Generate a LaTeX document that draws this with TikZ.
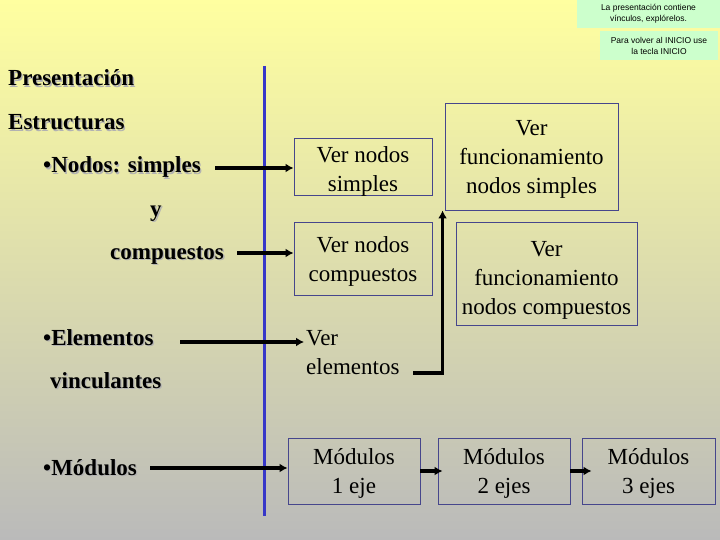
\documentclass[tikz,border=0pt]{standalone}
\usepackage{fontspec}
\setmainfont{Liberation Serif}
\newfontfamily\smallsans{Liberation Sans}
\usetikzlibrary{arrows.meta}
\definecolor{bgtop}{RGB}{255,255,160}
\definecolor{bgbot}{RGB}{186,186,186}
\definecolor{notegreen}{RGB}{204,255,204}
\definecolor{boxline}{RGB}{70,70,140}
\definecolor{vline}{RGB}{55,55,200}
\newcommand\shd[1]{\rlap{\kern1.3pt\raisebox{-1.3pt}{\textcolor{black!30}{#1}}}#1}
\tikzset{
  x=1pt,y=-1pt,
  lbl/.style={anchor=base west,inner sep=0pt,font=\fontsize{23}{28}\selectfont\bfseries},
  box/.style={draw=boxline,line width=0.9pt,inner sep=0pt},
  btxt/.style={align=center,inner sep=0pt,font=\fontsize{23}{29}\selectfont},
  note/.style={fill=notegreen,align=center,inner sep=0pt,
    font=\smallsans\fontsize{8.5}{11}\selectfont},
  arr/.style={line width=3.4pt,-{Latex[length=8pt,width=9pt]}}
}
\begin{document}
\begin{tikzpicture}
\useasboundingbox (0,0) rectangle (720,540);
\shade[top color=bgtop,bottom color=bgbot] (0,0) rectangle (720,540);

% notes
\node[note,minimum width=143pt,minimum height=28pt] (n1) at (648.5,14)
  {La presentación contiene\\vínculos, explórelos.};
\node[note,minimum width=118pt,minimum height=29pt] (n2) at (659,45.5)
  {Para volver al INICIO use\\la tecla INICIO};

% blue vertical line
\draw[vline,line width=3pt] (264,66) -- (264,516);

% left labels
\node[lbl] (pres) at (8,86) {\shd{Presentación}};
\node[lbl] (estr) at (8,130) {\shd{Estructuras}};
\node[lbl] (nodos) at (43,173) {\shd{•Nodos: simples}};
\node[lbl] (y) at (150,216) {\shd{y}};
\node[lbl] (comp) at (110,259) {\shd{compuestos}};
\node[lbl] (elem) at (43,345) {\shd{•Elementos}};
\node[lbl] (vinc) at (50,388) {\shd{vinculantes}};
\node[lbl] (mod) at (43,475) {\shd{•Módulos}};

% boxes
\node[box,minimum width=138pt,minimum height=57pt] (vns) at (363,166.5) {};
\node[btxt] (vns-t) at ([yshift=-5pt]vns.center) {Ver nodos\\simples};
\node[box,minimum width=138pt,minimum height=73pt] (vnc) at (363,258.5) {};
\node[btxt] (vnc-t) at ([yshift=-3pt]vnc.center) {Ver nodos\\compuestos};
\node[box,minimum width=173pt,minimum height=107pt] (fs) at (531.5,156.5) {};
\node[btxt] (fs-t) at ([yshift=-3pt]fs.center) {Ver\\funcionamiento\\nodos simples};
\node[box,minimum width=181pt,minimum height=103pt] (fc) at (546.5,273.5) {};
\node[btxt] (fc-t) at ([yshift=-7pt]fc.center) {Ver\\funcionamiento\\nodos compuestos};
\node[anchor=west,align=left,inner sep=0pt,font=\fontsize{23}{29}\selectfont] (ve) at (306,353) {Ver\\elementos};
\node[box,minimum width=132pt,minimum height=66pt] (m1) at (354,471) {};
\node[btxt] (m1-t) at ([yshift=-2.5pt]m1.center) {Módulos\\1 eje};
\node[box,minimum width=132pt,minimum height=66pt] (m2) at (504,471) {};
\node[btxt] (m2-t) at ([yshift=-2.5pt]m2.center) {Módulos\\2 ejes};
\node[box,minimum width=133pt,minimum height=66pt] (m3) at (648.5,471) {};
\node[btxt] (m3-t) at ([yshift=-2.5pt]m3.center) {Módulos\\3 ejes};

% connectors
\coordinate (a1) at (215,168);
\coordinate (a2) at (237,253);
\coordinate (a3) at (180,342);
\coordinate (a4) at (150,468);
\draw[arr] (a1) -- (a1 -| vns.west);
\draw[arr] (a2) -- (a2 -| vnc.west);
\draw[arr] (a3) -- ([xshift=-2pt]a3 -| ve.west);
\draw[arr] (a4) -- (a4 -| m1.west);
\coordinate (ve1) at (413,373);
\draw[arr] (ve1) -| ([xshift=-2pt]fs.south west);
\draw[arr] (m1.east) -- ([xshift=5pt]m2.west);
\draw[arr] (m2.east) -- ([xshift=10pt]m3.west);
\end{tikzpicture}
\end{document}
